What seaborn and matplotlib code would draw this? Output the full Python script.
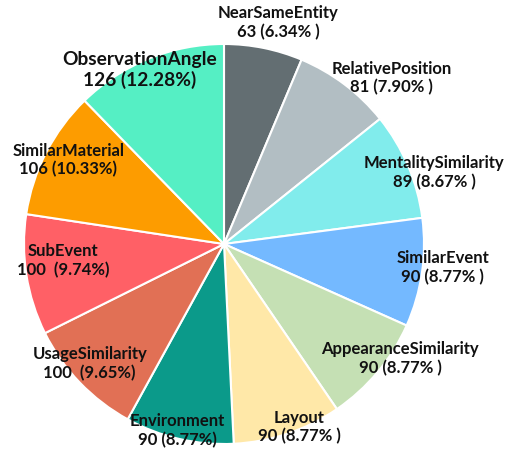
import numpy as np
import matplotlib
matplotlib.use("Agg")
import matplotlib.pyplot as plt
import seaborn as sns

# Data
categories = ["NearSameEntity", "RelativePosition", "MentalitySimilarity", "SimilarEvent",
              "AppearanceSimilarity", "Layout", "Environment", "UsageSimilarity",
              "SubEvent", "SimilarMaterial", "ObservationAngle"]
counts = [63, 81, 89, 90, 90, 90, 90, 100, 100, 106, 126]
percents = [6.34, 7.90, 8.67, 8.77, 8.77, 8.77, 8.77, 9.65, 9.74, 10.33, 12.28]
value_labels = ["63 (6.34% )", "81 (7.90% )", "89 (8.67% )", "90 (8.77% )", "90 (8.77% )",
                "90 (8.77% )", "90 (8.77%)", "100  (9.65%)", "100  (9.74%)",
                "106 (10.33%)", "126 (12.28%)"]

colors = ["#636e72", "#b2bec3", "#81ecec", "#74b9ff", "#c5e0b4", "#ffe8a8",
          "#0b9a8a", "#e17055", "#ff6066", "#fd9c00", "#55efc4"]

# label placement (fraction of radius, angle shift in degrees)
label_r = [1.14, 1.18, 1.11, 1.10, 1.05, 0.99, 0.96, 0.90, 0.81, 0.885, 0.965]
label_shift = [-2.3, -8.3, -4.3, 2.1, 6.8, 3.7, -1.0, -2.1, -3.0, -1.1, 3.7]

sns.set_theme(style="white")
plt.rcParams["font.family"] = ["Lato", "DejaVu Sans"]

W, H = 511, 451
fig = plt.figure(figsize=(W / 100, H / 100), dpi=100)
ax = fig.add_axes([24 / W, 7 / H, 400 / W, 400 / H])

wedges, _ = ax.pie(percents, colors=colors, startangle=90, counterclock=False,
                   wedgeprops=dict(edgecolor="white", linewidth=1.5))
ax.set_xlim(-1, 1)
ax.set_ylim(-1, 1)
ax.set_aspect("equal")
ax.axis("off")

for i, w in enumerate(wedges):
    ang = np.deg2rad((w.theta1 + w.theta2) / 2 + label_shift[i])
    x = label_r[i] * np.cos(ang)
    y = label_r[i] * np.sin(ang)
    size = 13.8 if categories[i] == "ObservationAngle" else 12
    ax.text(x, y, f"{categories[i]}\n{value_labels[i]}", ha="center", va="center",
            fontsize=size, fontweight="bold", color="#111111", linespacing=1.2,
            clip_on=False)

fig.savefig("out.png", dpi=100)
